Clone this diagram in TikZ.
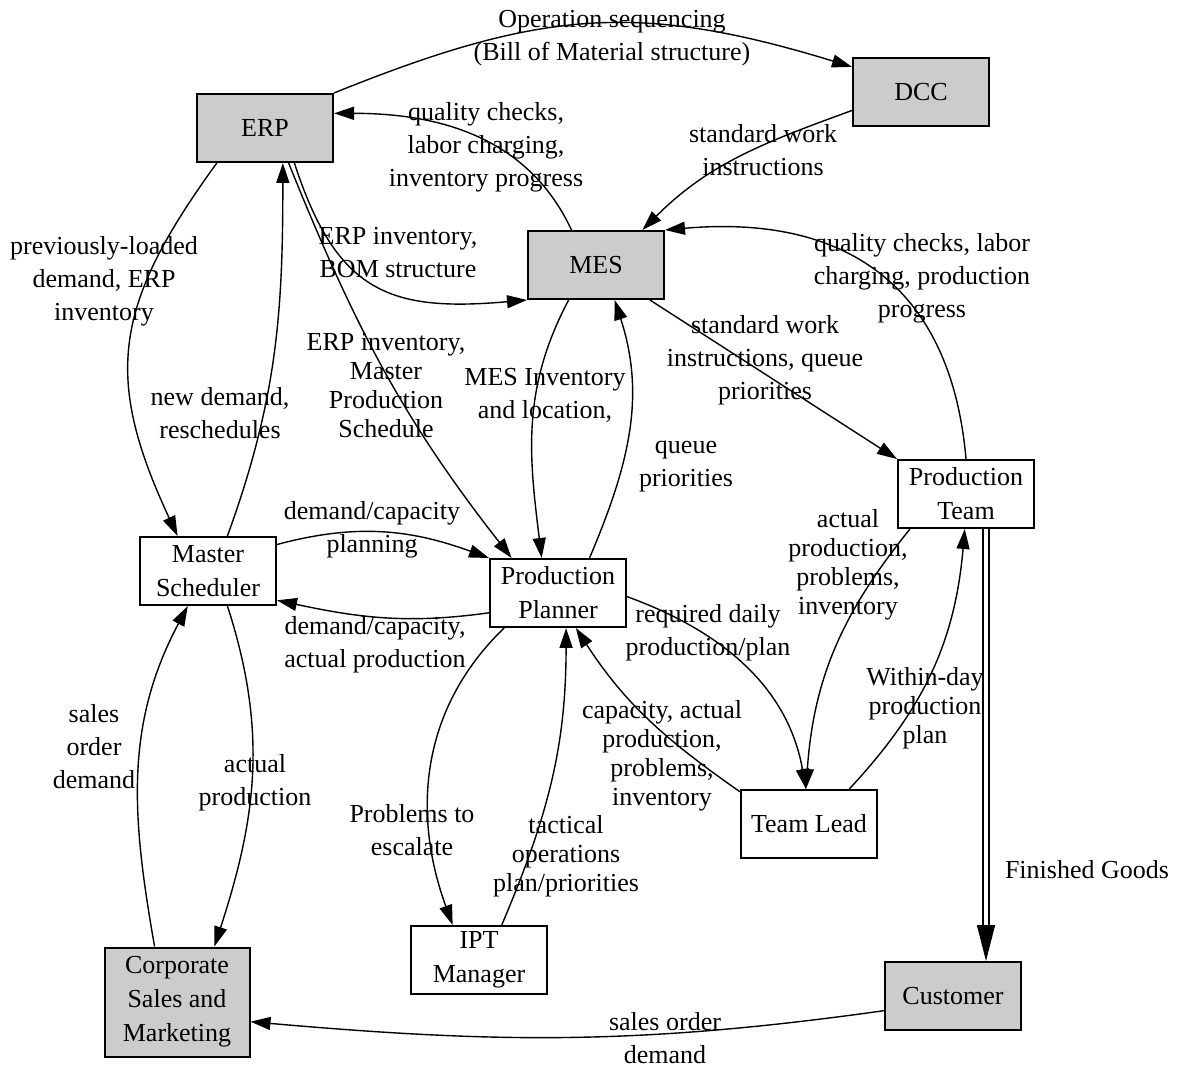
\documentclass[tikz,border=0pt]{standalone}
\usepackage{fontspec}
\setmainfont{Liberation Serif}
\usetikzlibrary{arrows.meta}

\begin{document}
\begin{tikzpicture}[x=0.5pt,y=-0.5pt,
    box/.style={draw,line width=1pt,minimum width=68pt,minimum height=34pt,inner sep=1pt,align=center,font=\fontsize{13}{17}\selectfont},
    sys/.style={box,fill=gray!40},
    lbl/.style={align=center,inner sep=0pt,font=\fontsize{13}{16.5}\selectfont},
    lbltight/.style={lbl,font=\fontsize{13}{14.5}\selectfont},
    flow/.style={line width=0.7pt,-{Triangle[length=10pt,width=6.5pt]}}]
  \useasboundingbox (0,0) rectangle (1177,1068);

  % systems and roles
  \node[sys] (erp) at (265,128) {ERP};
  \node[sys] (dcc) at (921,92) {DCC};
  \node[sys] (mes) at (596,265) {MES};
  \node[box] (pteam) at (966,494) {Production\\Team};
  \node[box] (msched) at (208,571) {Master\\Scheduler};
  \node[box] (pplan) at (558,593) {Production\\Planner};
  \node[box] (tlead) at (809,824) {Team Lead};
  \node[box] (ipt) at (479,960) {IPT\\Manager};
  \node[sys,minimum width=72.5pt,minimum height=54.5pt] (csm) at (177,1002) {Corporate\\Sales and\\Marketing};
  \node[sys] (cust) at (953,996) {Customer};

  % flows
  \draw[flow] (erp.north east) to[out=22,in=163,looseness=1.1] (dcc.160);
  \draw[flow] (mes.125) to[out=115,in=0] (erp.12);
  \draw[flow] (dcc.195) to[out=200,in=45] (mes.37);
  \draw[flow] (pteam.north) to[out=95,in=5,looseness=1.2] (mes.north east);
  \draw[flow] (mes.-33) -- (pteam.north west);
  \draw[flow] (erp.-50) to[out=-72,in=185,looseness=1.3] (mes.south west);
  \draw[flow] (erp.-56) to[out=-68,in=128] (pplan.143);
  \draw[flow] (erp.216) to[out=-126,in=115,looseness=1.2] (msched.131);
  \draw[flow] (msched.61) to[out=70,in=-90] (erp.-63);
  \draw[flow] (msched.21) to[out=15,in=160] (pplan.north west);
  \draw[flow] (pplan.196) to[out=188,in=-12] (msched.-23);
  \draw[flow] (mes.232) to[out=-118,in=97] (pplan.115);
  \draw[flow] (pplan.48) to[out=67,in=-72] (mes.-62);
  \draw[flow] (pplan.-3) to[out=-20,in=100] (tlead.95);
  \draw[flow] (pteam.212) to[out=-129,in=86] (tlead.95);
  \draw[flow] (tlead.41) to[out=47,in=-95] (pteam.-92);
  \draw[flow] (tlead.155) to[out=145,in=-57] (pplan.-63);
  \draw[flow] (ipt.57) to[out=67,in=-90] (pplan.-77);
  \draw[flow] (pplan.213) to[out=-136,in=110] (ipt.127);
  \draw[flow] (csm.112) to[out=100,in=-118] (msched.240);
  \draw[flow] (msched.-61) to[out=-72,in=72] (csm.56);
  \draw[flow] (cust.192) to[out=188,in=-5] (csm.-15);
  \draw[line width=0.7pt,double,double distance=2.2pt,-{Triangle[length=18pt,width=9pt]}] ([xshift=10pt]pteam.south) -- ([xshift=16.5pt]cust.north);

  % flow labels
  \node[lbl] (lopseq) at (612,38) {Operation sequencing\\(Bill of Material structure)};
  \node[lbl] (lqcerp) at (486,147) {quality checks,\\labor charging,\\inventory progress};
  \node[lbl] (lswi) at (763,150) {standard work\\instructions};
  \node[lbl] (lqcmes) at (922,278) {quality checks, labor\\charging, production\\progress};
  \node[lbl] (lerpbom) at (398,253) {ERP inventory,\\BOM structure};
  \node[lbl] (lprev) at (104,281) {previously-loaded\\demand, ERP\\inventory};
  \node[lbl] (lnewdem) at (220,413) {new demand,\\reschedules};
  \node[lbltight] (lmps) at (386,386) {ERP inventory,\\Master\\Production\\Schedule};
  \node[lbl] (lmesinv) at (545,395) {MES Inventory\\and location,};
  \node[lbl] (lqueue) at (686,467) {queue\\priorities};
  \node[lbl] (lswiq) at (765,360) {standard work\\instructions, queue\\priorities};
  \node[lbl] (ldcplan) at (372,530) {demand/capacity\\planning};
  \node[lbl] (ldcact) at (375,645) {demand/capacity,\\actual production};
  \node[lbltight] (lactprob) at (848,565) {actual\\production,\\problems,\\inventory};
  \node[lbl] (lreqdaily) at (708,633) {required daily\\production/plan};
  \node[lbltight] (lwithin) at (925,708) {Within-day\\production\\plan};
  \node[lbltight] (lcapact) at (662,756) {capacity, actual\\production,\\problems,\\inventory};
  \node[lbl] (lescal) at (412,830) {Problems to\\escalate};
  \node[lbltight] (ltact) at (566,856) {tactical\\operations\\plan/priorities};
  \node[lbl] (lsalesms) at (94,747) {sales\\order\\demand};
  \node[lbl] (lactual) at (255,783) {actual\\production};
  \node[lbl] (lsalescust) at (665,1038) {sales order\\demand};
  \node[lbl] (lfg) at (1087,870) {Finished Goods};
\end{tikzpicture}
\end{document}
